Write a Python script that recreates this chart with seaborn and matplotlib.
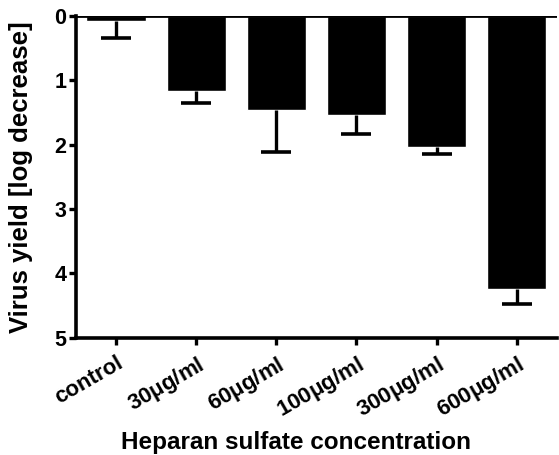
import numpy as np
import pandas as pd
import matplotlib
matplotlib.use("Agg")
import matplotlib.pyplot as plt
import seaborn as sns

sns.set_theme(style="ticks")
plt.rcParams['font.family'] = ['Liberation Sans', 'DejaVu Sans']
plt.rcParams['font.weight'] = 'bold'
plt.rcParams['mathtext.default'] = 'regular'
plt.rcParams['text.color'] = 'black'
plt.rcParams['axes.labelcolor'] = 'black'
plt.rcParams['xtick.color'] = 'black'
plt.rcParams['ytick.color'] = 'black'

# dados
categorias = ['control', r'30$\mu$g/ml', r'60$\mu$g/ml', r'100$\mu$g/ml',
              r'300$\mu$g/ml', r'600$\mu$g/ml']
media = [0.08, 1.16, 1.46, 1.54, 2.03, 4.25]
erro = [0.26, 0.19, 0.66, 0.30, 0.12, 0.22]

df = pd.DataFrame({'Concentracao': categorias, 'Reducao': media})

fig = plt.figure(figsize=(5.59, 4.55), dpi=100)
ax = fig.add_axes([0.136, 0.258, 0.860, 0.707])

sns.barplot(x='Concentracao', y='Reducao', data=df, color='black',
            errorbar=None, width=0.74, saturation=1, ax=ax)

# barra de erro só para baixo (um lado), com traço no fim
xs = [p.get_x() + p.get_width() / 2 for p in ax.patches]
topo = np.array(media) + np.array(erro)
ax.vlines(xs, media, topo, color='black', lw=2.4)
ax.plot(xs, topo, ls='none', marker='_', ms=22, mew=2.6, color='black')

ax.axhline(0, color='black', lw=2, zorder=5)
ax.set_ylim(5, 0)
ax.set_yticks([0, 1, 2, 3, 4, 5])
ax.set_xlim(-0.5, len(categorias) - 0.5)

for s in ['top', 'right']:
    ax.spines[s].set_visible(False)
for s in ['left', 'bottom']:
    ax.spines[s].set_linewidth(2.6)
    ax.spines[s].set_color('black')

ax.tick_params(axis='both', width=2.4, length=5, color='black',
               labelsize=15.5, pad=2)
ax.tick_params(axis='x', pad=6)
plt.setp(ax.get_xticklabels(), rotation=30, ha='right', rotation_mode='anchor',
         fontsize=16, fontweight='bold')
plt.setp(ax.get_yticklabels(), fontweight='bold')

ax.set_xlabel('Heparan sulfate concentration', fontsize=17.5, fontweight='bold')
ax.set_ylabel('Virus yield [log decrease]', fontsize=18.5, fontweight='bold')
ax.xaxis.set_label_coords(0.457, -0.29)
ax.yaxis.set_label_coords(-0.089, 0.5)

fig.savefig('out.png', dpi=100)
plt.close()
